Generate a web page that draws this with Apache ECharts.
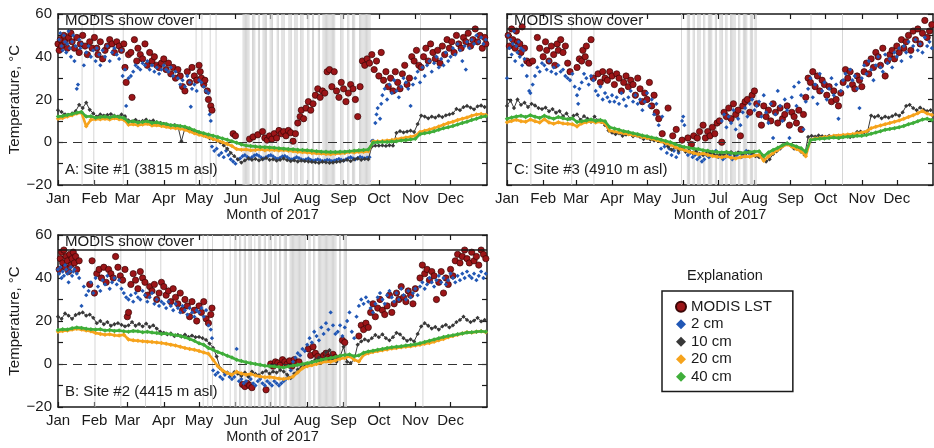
<!DOCTYPE html>
<html>
<head>
<meta charset="utf-8">
<script src="https://cdn.jsdelivr.net/npm/echarts@6/dist/echarts.min.js"></script>
<style>
html,body{margin:0;padding:0;background:#fff}
#chart{width:934px;height:448px}
</style>
</head>
<body>
<div id="chart"></div>
<script>
// Month tick labels and the day-of-year where each month starts (2017)
const monthNames = ['Jan','Feb','Mar','Apr','May','Jun','Jul','Aug','Sep','Oct','Nov','Dec'];
const monthStarts = [0,31,59,90,120,151,181,212,243,273,304,334];
const yearDays = 365;
const tempMin = -20, tempMax = 60;
const snowBandLevel = 53;   // level of the "MODIS snow cover" strip divider
const step10 = 3;           // 10 cm record: one value every 3 days
const step2040 = 4;         // 20 cm and 40 cm records: one value every 4 days

// ---------- Site #1 ----------
const siteA_lst = [[0,46],[1,43],[2,48],[3,45],[5,50],[6,47],[8,44],[9,49],[11,51],[12,47],[14,44],[16,49],[18,42],[19,46],[21,50],[23,45],[25,41],[27,47],[29,44],
[31,49],[33,44],[34,41],[36,47],[38,39],[40,43],[42,45],[44,48],[46,46],[48,42],[50,47],[52,45],[54,43],[56,46],
[57,35],[58,28],[60,41],[62,42],[63,21],[65,48],[67,38],[68,44],[70,41],[72,39],[74,46],[76,36],[78,42],[80,38],[82,40],[84,36],[86,35],[88,37],
[90,39],[92,34],[94,37],[96,32],[98,35],[100,30],[102,34],[104,31],[106,26],[108,24],[110,33],[112,28],[114,35],[116,31],[118,29],
[120,36],[121,33],[122,30],[124,27],[125,29],[127,24],[128,20],[130,17],[131,15],
[149,4],[151,3],[163,1.5],[166,2.5],[170,3.5],[174,5],[176,2],[178,1],
[180,3],[182,1.5],[184,4],[186,2],[188,5.5],[190,4],[192,5],[194,3],[196,5.5],[198,4.5],[200,0.5],[202,4],[204,9],[206,12],[207,15],[209,11],[211,16],[213,19],[215,15],[217,18],[219,22],[221,25],[223,21],[225,24],[227,23],[229,33],[231,34],[233,26],[235,33],[237,24],[239,21],[241,28],[243,25],[245,19],[247,23],[249,27],[251,25],[253,20],[255,12],[257,26],[259,38],[261,36],[263,39],[265,37],[267,41],[269,34],[271,38],[273,31],[275,42],
[277,29],[279,33],[281,26],[283,30],[285,24],[287,33],[289,28],[291,25],[293,32],[295,36],[297,27],[299,30],[301,40],[303,38],[305,43],[307,36],[309,35],[311,40],[313,44],[315,38],[317,46],[319,42],[321,39],[323,43],[325,37],[327,45],[329,41],[331,48],[333,44],[335,47],[337,42],[339,50],[341,46],[343,44],[345,49],[347,47],[349,51],[351,45],[353,48],[355,53],[357,47],[359,50],[361,44],[363,49],[364,46]];

const siteA_cm2 = [[1,48],[2,51],[3,45],[4,43],[5,50],[6,47],[7,42],[8,46],[9,52],[10,44],[11,40],[12,47],[13,50],[14,38],[15,45],[16,25],[17,27],[18,48],[19,44],[20,46],[22,36],[24,42],[26,45],[28,40],[30,43],
[32,38],[33,44],[35,41],[36,36],[38,43],[40,40],[42,45],[44,38],[46,42],[48,44],[50,41],[52,39],[54,43],[55,31],[57,34],
[58,17],[60,30],[62,31],[64,33],[66,36],[68,35],[70,34],[72,37],[74,36],[76,38],[78,34],[80,36],[82,33],[84,35],[86,32],[88,34],
[90,36],[92,34],[94,33],[96,35],[98,31],[100,33],[102,30],[104,27],[106,29],[108,26],[110,31],[112,28],[113,16.6],[114,25],[116,27],[118,24],
[120,29],[122,28],[124,26],[126,24],[128,23],[129,13],[130,10],
[131,-2],[133,-4],[135,-3],[137,-6],[139,-5],[141,-7],[143,-4],[145,-6],[147,-8],[149,-9],[151,-10],[153,-8],
[155,-7.5],[157,-6.5],[159,-6],[161,-6.8],[163,-7.6],[165,-7],[167,-6.2],[169,-5.8],[171,-6.4],[173,-7.2],[175,-7.6],[177,-7],[179,-6.4],[181,-6],[183,-6.6],[185,-7.4],[187,-7.8],[189,-7.2],[191,-6.6],[193,-6.4],[195,-7],[197,-7.8],[199,-8],[201,-7.6],[203,-7],[205,-7.4],[207,-8],[209,-8.4],[211,-8],[213,-7.6],[215,-8.2],[217,-8.6],[219,-8.4],[221,-8],[223,-8.4],[225,-8.8],[227,-8.6],[229,-8.2],[231,-8.4],[233,-8.8],[235,-8.6],[237,-8.2],[239,-7.8],[241,-8.2],[243,-8.6],[245,-8],[247,-7.4],[249,-7],[251,-7.6],[253,-8],[255,-7.4],[257,-6.8],[259,-7.2],[261,-7.6],[263,-7.2],[265,-7],
[267,0.5],[268,0.8],[270,9],[271,13],[272,16],[274,11],[275,18],
[276,22],[278,25],[280,20],[282,27],[284,23],[286,29],[288,24],[290,21],[292,26],[294,30],[296,28],[298,25],[300,17],[302,27],
[304,30],[306,33],[308,28],[310,35],[312,31],[314,36],[316,38],[318,33],[320,37],[322,40],[324,35],[326,39],[328,36],[330,42],[332,38],
[334,40],[336,44],[338,41],[340,46],[342,43],[344,38],[346,45],[347,34],[348,47],[350,44],[352,48],[354,46],[356,50],[358,47],[360,49],[362,46],[364,48]];

const siteA_cm10 = [15.0,14.2,13.0,12.8,13.5,14.5,17.5,16.0,18.5,15.2,13.5,
12.0,13.0,12.5,12.8,13.2,12.4,12.0,13.0,12.2,
10.2,9.8,10.5,9.6,10.0,10.6,9.8,10.2,9.4,9.0,
8.6,8.2,7.8,8.0,7.5,0.5,6.6,6.0,5.2,4.5,
4.0,3.5,2.8,2.0,1.5,1.0,0.0,-1.5,-3.0,-5.0,-6.5,
-8.0,-9.5,-8.5,-7.6,-8.2,-7.8,-8.5,-8.0,-7.4,-8.2,
-8.0,-8.6,-8.2,-7.6,-8.4,-8.8,-8.5,-9.0,-8.6,-8.8,
-9.0,-9.2,-9.4,-9.6,-9.2,-9.4,-9.6,-9.5,-9.2,-9.0,
-8.6,-8.2,-8.8,-8.0,-7.6,-8.2,-7.8,-8.0,-2.0,-1.6,
-1.6,-1.5,-1.7,-1.4,-1.6,4.4,5.2,4.6,5.0,5.4,4.8,
8.5,12.5,12.0,11.2,12.0,11.5,12.4,11.8,12.6,13.0,
13.5,15.6,15.0,16.4,17.0,16.2,15.4,16.8,17.2,16.5];

const siteA_cm20 = [11.0,11.4,12.0,12.6,13.5,13.8,7.5,10.5,
10.8,10.8,11.0,10.6,11.2,10.8,10.5,
8.2,8.4,8.0,8.3,8.6,7.8,8.0,7.6,
7.2,6.8,6.6,6.3,5.8,5.0,4.2,
3.5,3.0,2.3,1.5,0.8,0.0,-0.8,-1.8,
-3.2,-3.5,-3.4,-3.8,-3.6,-3.3,-3.7,-3.5,
-3.6,-3.9,-3.6,-4.0,-4.2,-4.5,-4.6,-4.8,
-5.0,-5.2,-5.3,-5.5,-5.6,-5.4,-5.2,
-5.0,-4.6,-4.8,-4.4,-4.5,-4.2,
0.3,
0.5,0.6,0.8,1.0,1.4,1.8,2.2,2.6,
3.0,4.8,5.4,6.0,6.6,7.4,8.2,9.0,
9.6,10.4,11.0,11.6,12.4,13.0,13.2,12.8];

const siteA_cm40 = [12.0,12.3,12.8,13.2,13.8,14.2,12.0,12.2,
11.5,11.8,12.0,11.6,12.2,11.8,11.4,
9.6,9.8,9.2,9.5,9.8,9.0,9.3,8.8,
8.5,8.0,7.8,7.6,7.2,6.5,5.6,
4.8,4.2,3.6,3.0,2.5,1.8,1.2,0.5,
-0.2,-1.0,-1.5,-1.8,-2.0,-2.2,-2.3,-2.4,
-2.6,-2.8,-3.0,-3.2,-3.3,-3.5,-3.6,-3.8,
-4.0,-4.2,-4.4,-4.5,-4.6,-4.6,-4.5,
-4.4,-4.2,-4.0,-3.8,-3.6,-3.4,
-0.2,
0.0,0.1,0.1,0.3,0.5,0.8,1.0,1.3,
1.6,3.8,4.2,4.6,5.2,5.8,6.5,7.0,
7.6,8.3,9.0,9.6,10.4,11.0,11.8,12.2];

const siteA_snow = [[20,21],[30,31],[55,56],[117,118],[122,123],[129,130],[134,135],[157,163],[165,168],[170,172],[174,178],[180,183],[186,188],[190,193],[196,199],[201,204],[206,209],[212,214],[216,218],[221,223],[225,236],[240,243],[246,248],[250,253],[256,266],[308,309]];

// ---------- Site #2 ----------
const siteB_lst = [[1,44],[2,49],[3,52],[4,47],[5,53],[6,45],[7,50],[8,48],[9,43],[10,51],[11,46],[12,49],[13,52],[14,47],[15,50],[16,44],[18,48],
[27,37],[29,48],[31,33],[33,42],[35,44],[37,40],[39,45],[41,38],[43,44],[45,42],[47,40],[49,50],[51,45],[53,41],[55,39],[57,44],
[59,22],[60,24],[62,37],[64,42],[66,39],[68,35],[70,43],[72,40],[74,38],[76,32],[78,36],[80,34],[82,37],[84,30],[86,33],[88,38],
[90,36],[92,32],[94,34],[96,29],[98,35],[100,31],[102,28],[104,33],[106,25],[108,30],[110,27],[112,22],[114,29],[116,25],
[118,20],[120,27],[122,24],[124,29],[126,21],[128,19],[130,23],[131,26],
[157,-9.5],[159,-10.5],[161,-9],[163,-10],[165,-11],[177,-12],
[181,0],[183,-1],[185,1],[187,0.5],[189,-0.5],[191,2],[193,1],[195,0],[197,1.5],[199,-1],[201,2],[203,0.5],[205,1],
[213,7],[215,4],[217,8],[219,5],[221,3.5],[224,2],[226,4],[228,5],[230,3],[232,2.5],[234,4.5],[236,3],[242,11],[244,10],
[256,13],[258,18],[260,16],[262,19],[264,17],
[266,24],[268,28],[270,22],[272,26],[274,30],[276,25],[278,23],[280,27],[282,32],[284,24],[286,28],
[288,33],[290,30],[292,36],[294,31],[296,29],[298,34],[300,32],[302,28],[304,35],
[308,40],[310,46],[312,42],[314,44],[316,39],[318,43],[320,41],
[322,30],[324,38],[326,43],[328,33],[330,40],[332,37],[334,44],[336,41],
[338,48],[340,51],[342,47],[344,50],[346,53],[348,49],[350,47],[352,52],[354,48],[356,50],[358,46],[360,53],[362,51],[364,49]];

const siteB_cm2 = [[0,44],[1,42],[2,45],[3,40],[4,43],[5,41],[6,46],[7,44],[8,42],[9,38],[10,43],[11,45],[12,41],[13,43],[14,44],[16,42],[18,40],
[20,27],[22,36],[24,32],[26,34],[28,38],[30,33],
[32,40],[34,36],[36,34],[38,39],[40,37],[42,41],[44,35],[46,38],[48,40],[50,37],[52,39],[54,35],[56,33],[58,31],
[60,30],[62,32],[64,29],[66,33],[68,31],[70,30],[72,34],[74,32],[76,29],[78,31],[80,33],[82,28],[84,30],[86,27],[88,29],
[90,28],[92,26],[94,29],[96,27],[98,25],[100,28],[102,26],[104,24],[106,27],[108,25],[110,23],[112,26],[114,24],[116,22],[118,25],
[120,24],[122,26],[124,22],[126,25],[128,18],[130,16],[131,12],[132,-3],[134,-5],[136,-4],[138,-6],[140,-7],[142,-5],[144,-4],[146,-6],[148,-7],
[150,-6],[152,7],[154,-8],[156,-7],[158,-9],[160,-8],[162,-6],[164,-7],[166,-9],[168,-10],[170,-8],[172,-7],[174,-9],[176,-10],[178,-8],[180,-9],
[182,-10],[184,-8],[186,-9],[188,-10],[190,-9],[192,-8],[194,-7],[196,-6],
[198,-3],[200,1],[202,3],[204,5],[206,4],[208,7],[210,6],
[212,9],[214,12],[216,10],[218,15],[220,13],[222,11],[224,17],[226,14],[228,19],[230,16],[232,24],[234,18],[236,14],
[238,15],[240,18],[242,13],[244,17],[246,20],[248,24],[250,15],[252,12],
[254,22],[256,27],[258,30],[260,28],[262,31],[264,29],[266,26],[268,24],[270,28],
[272,31],[274,33],[276,30],[278,28],[280,32],[282,34],[284,31],[286,29],[288,33],[290,30],[292,35],[294,32],[296,30],[298,34],[300,31],[302,33],[304,35],[306,32],
[308,36],[310,38],[312,35],[314,37],[316,40],[318,38],[320,36],[322,39],[324,41],[326,38],[328,40],[330,37],[332,39],[334,42],[336,40],[338,38],[340,41],[342,39],[344,42],[346,40],[348,43],[350,41],[352,40],[354,42],[356,39],[358,41],[360,43],[362,40],[364,42]];

const siteB_cm10 = [22.0,21.0,23.5,22.5,21.0,22.8,23.5,24.0,22.5,23.0,21.5,
19.0,20.0,18.5,19.5,17.8,18.5,19.0,18.2,17.5,
18.0,19.5,17.8,18.6,17.5,18.8,17.2,18.0,16.5,15.0,
14.5,13.8,14.2,13.0,13.5,12.8,13.6,12.6,13.2,12.5,
12.6,12.0,11.2,9.5,7.5,3.5,-2.0,-3.5,-4.0,-5.0,-3.8,
-4.5,-5.5,-4.0,-5.8,-3.5,-4.6,-5.2,-4.0,-3.2,-4.5,
-3.5,-4.0,-2.8,-3.5,-5.0,-6.5,-4.5,-2.5,-1.5,-1.0,
0.0,1.0,2.0,3.0,1.5,5.5,6.5,2.0,1.0,3.5,
8.0,1.0,0.5,2.0,9.0,10.5,11.5,10.8,12.0,13.5,
12.5,13.8,12.0,11.0,12.5,14.5,13.8,12.0,10.8,11.5,10.5,
14.0,17.5,19.0,17.8,16.5,17.2,16.0,17.5,18.2,17.0,
18.0,19.5,20.5,22.0,20.5,19.5,20.2,21.5,19.8,20.5];

const siteB_cm20 = [15.0,15.4,15.6,16.0,16.4,16.0,15.6,15.2,
14.4,14.0,13.6,13.8,13.4,13.2,13.6,
11.4,11.0,10.8,10.6,10.4,10.2,10.0,9.8,
9.4,9.0,8.6,8.0,7.4,7.0,6.6,
6.0,5.4,4.8,2.0,-1.0,-3.0,-4.2,-5.0,
-3.6,-4.4,-5.0,-4.6,-5.4,-5.8,-6.2,-6.0,
-6.4,-6.8,-7.0,-6.6,-5.8,-4.0,-2.0,-1.0,
-0.6,0.0,0.6,1.2,1.0,1.6,2.4,
2.8,3.6,2.0,1.2,4.2,5.0,
5.6,
6.0,6.4,6.8,7.2,7.4,7.8,8.0,8.2,
8.6,9.0,9.4,9.8,10.4,11.0,11.6,12.4,
13.0,13.6,14.2,14.8,14.6,15.0,15.2,14.8];

const siteB_cm40 = [15.8,16.2,16.0,16.6,17.0,16.8,16.4,16.2,
16.0,16.2,15.6,15.8,15.4,15.6,15.2,
15.0,15.4,15.2,14.8,15.0,14.6,14.4,14.0,
14.2,13.8,13.4,13.0,12.4,11.6,10.8,
9.6,9.0,7.4,6.6,5.6,4.8,3.8,3.0,
2.0,1.4,0.8,0.4,0.0,-0.4,-0.8,-1.0,
-1.2,-1.4,-1.6,-1.2,-0.8,-0.4,0.0,0.4,
0.8,1.4,2.0,2.4,2.8,3.2,3.8,
4.2,4.4,3.6,4.0,5.2,5.8,
6.2,
6.6,7.0,7.4,7.8,8.0,8.2,8.6,8.8,
9.2,9.6,10.2,10.8,11.4,12.0,12.6,13.0,
13.4,13.8,14.2,14.6,14.8,15.0,15.2,15.0];

const siteB_snow = [[31,32],[53,54],[74,75],[87,88],[123,124],[127,128],[131,132],[140,141],[146,147],[150,152],[154,156],[158,160],[162,165],[167,168],[170,173],[175,177],[179,182],[184,186],[188,190],[192,195],[197,211],[213,215],[217,219],[221,237],[239,241],[243,246],[310,311]];

// ---------- Site #3 ----------
const siteC_lst = [[1,50],[2,45],[4,53],[5,48],[7,44],[8,52],[9,47],[11,46],[12,42],[13,54],[15,44],[17,38],[19,37],[22,38],[26,49],[28,44],
[31,40],[33,47],[34,43],[36,38],[38,45],[40,41],[41,36],[43,46],[44,43],[46,48],[48,42],[50,45],[52,37],[54,33],
[60,35],[62,39],[64,38],[65,43],[67,40],[68,45],[70,37],[72,48],[74,30],
[78,32],[80,28],[82,33],[84,30],[86,29],[88,33],[90,31],[92,27],[94,32],[96,30],[98,24],[100,28],[102,31],[104,26],[106,29],
[108,27],[110,22],[112,30],[114,25],[116,19],[118,23],[120,20],[122,28],[124,17],[126,22],[128,14],[130,11],[133,4],[138,16],[142,3],[145,6],[150,1],
[155,2],[158,-1],[160,3],[163,2],[165,5],[168,8],[170,2],[172,5],[174,3],[176,7],[178,4],[180,9],
[182,10],[184,0],[186,14],[188,12],[190,16],[192,11],[194,18],[196,13],[198,15],[200,3],[202,17],[204,19],[206,20],[208,14],[210,22],[212,24],[214,18],
[216,13],[218,8],[220,17],[222,12],[224,15],[226,10],[228,18],[230,14],[232,9],[234,16],[236,11],[238,13],[240,17],[242,8],[244,14],[246,12],[248,9],
[250,15],[252,6],[254,13],[256,21],[258,30],[260,28],[262,33],[264,26],[266,31],[268,24],[270,29],[272,27],
[274,22],[276,26],[278,19],[280,24],[282,20],[284,17],[286,23],[288,28],[290,34],[292,30],[294,33],[296,27],[298,25],[300,31],[302,29],
[304,26],[306,33],[308,37],[310,32],[312,39],[314,35],[316,42],[318,40],[320,36],[322,44],[324,31],[326,38],[328,41],[330,43],[332,39],
[334,45],[336,42],[338,48],[340,44],[342,47],[344,50],[346,43],[348,52],[350,48],[352,53],[354,46],[356,51],[358,57],[360,49],[362,52],[364,55]];

const siteC_cm2 = [[0,30],[1,50],[2,44],[3,48],[4,41],[5,46],[6,52],[7,38],[8,45],[9,42],[10,47],[11,40],[12,44],[13,36],[14,43],[15,39],[17,31],[19,24],[20,23],[22,27],[24,31],[26,35],[28,33],[30,37],
[32,36],[34,34],[36,38],[38,33],[40,35],[42,32],[44,36],[46,33],[48,34],[50,31],[52,30],[54,29],[56,32],[58,26],
[60,22],[61,18],[62,25],[64,28],[66,32],[68,30],[70,27],[72,31],[74,29],[76,24],[78,22],[80,26],[82,20],[84,23],[86,21],[88,19],
[90,22],[92,19],[94,21],[96,18],[98,23],[100,20],[102,17],[104,21],[106,24],[108,19],[110,22],[112,18],[114,20],[116,15],[118,19],
[120,23],[122,17],[124,20],[126,13],[128,18],[130,8],[132,-3],[133,12],[135,-2],[137,-5],[139,-3],[141,-6],[143,-4],[145,-7],
[147,-5],[149,-3],[150,10],[151,12],[152,8],[153,-4],[155,-6],[157,-5],[159,-7],[161,-6],[163,-8],[165,-7],[167,-9],[169,-8],[171,-6],[173,-7],[175,-5],[177,-6],[179,-4],
[181,-7],[183,-6],[185,-8],[187,-7],[189,-5],[191,-6],[193,-8],[195,-7],[197,-6],[199,-5],[201,-7],[203,-6],[205,-4],[207,-5],[209,-6],[211,-5],
[184,10],[186,13],[188,7],[190,12],[192,9],[194,15],[196,6],[198,11],[200,8],[202,14],[204,16],[206,12],[208,18],[210,20],[212,15],[214,17],
[216,19],[218,12],[220,22],[222,14],[224,9],[226,18],[228,2],[230,13],[232,24],[234,17],[236,10],[238,20],[240,15],[242,2],
[244,21],[246,26],[248,17],[250,28],[252,22],[254,6],[256,19],[258,25],[260,30],[262,21],[264,27],[266,18],[268,32],[270,24],
[272,28],[274,20],[276,25],[278,30],[280,22],[282,27],[284,11],[286,24],[288,29],[290,32],[292,26],[294,34],[296,29],[298,31],[300,25],[302,16],
[304,30],[306,36],[308,32],[310,38],[312,34],[314,29],[316,36],[318,40],[320,35],[322,33],[324,41],[326,37],[328,39],[330,35],[332,42],
[334,40],[336,44],[338,38],[340,45],[342,42],[344,47],[346,40],[348,45],[350,48],[352,43],[354,46],[356,42],[358,49],[360,45],[362,47],[364,44]];

const siteC_cm10 = [17.0,19.5,16.0,20.0,17.5,18.5,16.5,18.0,17.2,16.0,15.5,
16.2,14.5,15.5,13.8,14.6,12.2,13.5,11.0,12.4,
13.0,10.5,12.2,11.0,9.6,12.0,10.2,9.5,8.0,5.5,
4.5,3.8,4.2,3.0,3.6,4.0,2.8,3.2,2.5,1.5,
2.0,1.2,0.8,1.5,0.5,-0.5,-2.0,-3.5,-2.5,-4.0,-3.0,
-4.5,-3.8,-5.0,-4.2,-5.5,-6.0,-5.2,-4.8,-5.6,-6.2,
-5.5,-6.0,-5.0,-4.6,-5.8,-4.8,-5.2,-6.5,-4.4,-5.0,
-6.5,-7.0,-6.2,-9.0,-8.0,-5.5,-4.2,-3.0,-1.5,-0.5,
-1.5,-3.0,-2.5,-4.5,-6.0,2.5,3.0,2.6,3.2,2.8,
2.5,3.0,2.4,2.8,2.2,2.6,3.0,2.4,2.8,4.8,5.0,
4.6,5.2,12.5,11.8,12.4,11.2,12.0,11.5,12.2,13.0,
12.4,14.0,17.0,17.5,16.0,15.0,16.2,15.2,14.6,15.0];

const siteC_cm20 = [9.4,10.0,10.5,9.8,9.6,10.6,9.8,9.2,
10.8,9.2,8.6,9.4,8.8,8.6,8.4,
7.4,8.8,9.4,9.8,9.2,9.6,8.8,5.4,
5.0,4.6,4.2,3.8,3.4,3.0,2.4,
2.0,1.6,1.0,0.4,-0.4,-1.2,-2.2,-3.0,
-3.6,-4.4,-5.0,-5.6,-5.2,-6.0,-6.4,-6.8,
-7.0,-6.6,-7.2,-7.6,-7.0,-6.6,-6.8,-6.2,
-6.0,-8.6,-6.6,-5.0,-3.6,-2.0,-1.0,
-2.0,-3.2,-4.2,-6.5,1.2,1.8,
2.0,
2.4,2.6,3.0,3.2,3.4,3.6,3.8,4.2,
4.6,5.0,6.6,7.2,7.8,8.4,9.0,9.6,
10.2,11.0,11.8,12.6,13.6,14.6,13.4,12.8];

const siteC_cm40 = [11.0,11.6,12.0,12.4,11.8,12.6,11.9,11.4,
12.4,11.6,11.0,11.8,11.2,10.8,11.2,
9.5,9.8,10.2,10.6,10.0,10.4,9.8,7.0,
6.4,5.8,5.2,4.8,4.2,3.8,3.2,
2.8,2.2,1.8,1.2,0.6,0.0,-0.8,-1.6,
-2.2,-2.6,-3.0,-3.2,-3.8,-4.0,-4.4,-4.6,
-4.8,-4.6,-5.0,-5.2,-5.0,-4.8,-4.6,-4.4,
-4.2,-6.5,-4.8,-3.6,-2.6,-1.4,-0.6,
-1.2,-2.0,-2.8,-4.5,1.0,1.4,
1.6,
1.8,2.0,2.2,2.0,2.4,2.6,2.8,3.0,
3.0,3.4,4.0,4.6,5.2,5.8,6.2,6.6,
7.0,7.6,8.4,9.0,9.8,10.6,11.0,10.4];

const siteC_snow = [[20,21],[55,56],[74,75],[149,150],[154,157],[159,161],[163,166],[168,170],[172,176],[178,180],[182,185],[187,189],[191,196],[198,200],[202,206],[208,211],[212,214],[260,261],[287,288]];

// ---------- drawing ----------
const FONT = '"Liberation Sans", Arial, Helvetica, sans-serif';
const INK = '#1a1a1a';
const COLORS = { lst: '#9c1518', lstEdge: '#3a0606', cm2: '#2157b5', cm10: '#383838', cm20: '#f6a31c', cm40: '#3fae3a', snow: '#d0d0d0' };

const panels = [
  { grid: {left: 58, top: 14, width: 429, height: 171}, label: 'A: Site #1 (3815 m asl)', yLabels: true,
    lst: siteA_lst, cm2: siteA_cm2, cm10: siteA_cm10, cm20: siteA_cm20, cm40: siteA_cm40, snow: siteA_snow },
  { grid: {left: 58, top: 235, width: 429, height: 172}, label: 'B: Site #2 (4415 m asl)', yLabels: true,
    lst: siteB_lst, cm2: siteB_cm2, cm10: siteB_cm10, cm20: siteB_cm20, cm40: siteB_cm40, snow: siteB_snow },
  { grid: {left: 507, top: 14, width: 426, height: 171}, label: 'C: Site #3 (4910 m asl)', yLabels: false,
    lst: siteC_lst, cm2: siteC_cm2, cm10: siteC_cm10, cm20: siteC_cm20, cm40: siteC_cm40, snow: siteC_snow }
];

const toDaily = (values, step) => values.map((v, i) => [i * step, v]);
const fmtTemp = v => (v < 0 ? '\u2212' + Math.abs(v) : String(v));
// each snow-covered day becomes its own thin stripe, so runs of days read as striped blocks
const snowStripes = ranges => {
  const out = [];
  ranges.forEach(([a, b]) => { for (let d = a; d < b; d++) out.push([{ xAxis: d + 0.1 }, { xAxis: d + 0.85 }]); });
  return out;
};

const grids = [], xAxes = [], yAxes = [], series = [], titles = [];

panels.forEach((p, g) => {
  grids.push(Object.assign({ containLabel: false }, p.grid));
  const tickStyle = { show: true, inside: true, length: 5, lineStyle: { color: INK, width: 1.2 } };
  const lineStyle = { show: true, onZero: false, lineStyle: { color: INK, width: 1.5 } };
  xAxes.push({
    type: 'value', gridIndex: g, position: 'bottom', min: 0, max: yearDays,
    axisLine: lineStyle, splitLine: { show: false },
    axisTick: Object.assign({ customValues: monthStarts }, tickStyle),
    axisLabel: { customValues: monthStarts, color: INK, fontSize: 15, fontFamily: FONT, margin: 6,
                 formatter: v => monthNames[monthStarts.indexOf(v)] },
    name: 'Month of 2017', nameLocation: 'middle', nameGap: 22,
    nameTextStyle: { color: INK, fontSize: 14.5, fontFamily: FONT }
  });
  xAxes.push({
    type: 'value', gridIndex: g, position: 'top', min: 0, max: yearDays,
    axisLine: lineStyle, splitLine: { show: false },
    axisTick: Object.assign({ customValues: monthStarts }, tickStyle),
    axisLabel: { show: false }
  });
  yAxes.push({
    type: 'value', gridIndex: g, position: 'left', min: tempMin, max: tempMax, interval: 20,
    axisLine: lineStyle, splitLine: { show: false }, axisTick: tickStyle,
    minorTick: { show: true, splitNumber: 2, length: 5, lineStyle: { color: INK, width: 1.2 } },
    axisLabel: { show: p.yLabels, color: INK, fontSize: 15, fontFamily: FONT, margin: 6, formatter: fmtTemp },
    name: p.yLabels ? 'Temperature, \u00B0C' : '', nameLocation: 'middle', nameGap: 34,
    nameTextStyle: { color: INK, fontSize: 15, fontFamily: FONT }
  });
  yAxes.push({
    type: 'value', gridIndex: g, position: 'right', min: tempMin, max: tempMax, interval: 20,
    axisLine: lineStyle, splitLine: { show: false }, axisTick: tickStyle,
    minorTick: { show: true, splitNumber: 2, length: 5, lineStyle: { color: INK, width: 1.2 } },
    axisLabel: { show: false }
  });
  const xi = 2 * g, yi = 2 * g;

  // snow-covered days and the zero reference
  series.push({
    type: 'line', xAxisIndex: xi, yAxisIndex: yi, data: [], silent: true, z: 1,
    markArea: { silent: true, itemStyle: { color: COLORS.snow }, data: snowStripes(p.snow) },
    markLine: { silent: true, symbol: 'none', animation: false,
                data: [{ yAxis: 0, lineStyle: { type: [9, 6], color: '#333', width: 1 }, label: { show: false } }] }
  });
  // strip divider with its caption
  series.push({
    type: 'line', xAxisIndex: xi, yAxisIndex: yi, data: [], silent: true, z: 8,
    markLine: { silent: true, symbol: 'none', animation: false,
      data: [{ yAxis: snowBandLevel, lineStyle: { type: 'solid', color: INK, width: 1.5 },
               label: { show: true, position: 'insideStartTop', formatter: 'MODIS snow cover', distance: [7, 1],
                        color: INK, fontSize: 15, fontFamily: FONT } }] }
  });
  series.push({
    name: 'MODIS LST', type: 'scatter', xAxisIndex: xi, yAxisIndex: yi, z: 2,
    symbol: 'circle', symbolSize: 6.3, data: p.lst,
    itemStyle: { color: COLORS.lst, borderColor: COLORS.lstEdge, borderWidth: 0.7, opacity: 1 }
  });
  series.push({
    name: '2 cm', type: 'scatter', xAxisIndex: xi, yAxisIndex: yi, z: 3,
    symbol: 'diamond', symbolSize: 4.3, data: p.cm2, itemStyle: { color: COLORS.cm2, opacity: 1 }
  });
  series.push({
    name: '10 cm', type: 'line', xAxisIndex: xi, yAxisIndex: yi, z: 4,
    symbol: 'diamond', symbolSize: 4.3, showSymbol: true, data: toDaily(p.cm10, step10),
    lineStyle: { color: COLORS.cm10, width: 1 }, itemStyle: { color: COLORS.cm10 }
  });
  series.push({
    name: '20 cm', type: 'line', xAxisIndex: xi, yAxisIndex: yi, z: 5,
    symbol: 'diamond', symbolSize: 4.5, showSymbol: true, data: toDaily(p.cm20, step2040),
    lineStyle: { color: COLORS.cm20, width: 2.6 }, itemStyle: { color: COLORS.cm20 }
  });
  series.push({
    name: '40 cm', type: 'line', xAxisIndex: xi, yAxisIndex: yi, z: 6,
    symbol: 'diamond', symbolSize: 4.5, showSymbol: true, data: toDaily(p.cm40, step2040),
    lineStyle: { color: COLORS.cm40, width: 2.6 }, itemStyle: { color: COLORS.cm40 }
  });

  titles.push({ text: p.label, left: p.grid.left + 7, top: p.grid.top + p.grid.height - 23, padding: 0,
                textStyle: { color: INK, fontSize: 15, fontWeight: 'normal', fontFamily: FONT } });
});

titles.push({ text: 'Explanation', left: 687, top: 268, padding: 0,
              textStyle: { color: INK, fontSize: 14.5, fontWeight: 'normal', fontFamily: FONT } });

const chart = echarts.init(document.getElementById('chart'), null, { renderer: 'canvas' });
chart.setOption({
  animation: false,
  backgroundColor: '#fff',
  title: titles,
  grid: grids,
  xAxis: xAxes,
  yAxis: yAxes,
  legend: {
    left: 662, top: 291, orient: 'vertical', selectedMode: false,
    padding: [7, 21, 6, 13], itemGap: 0, itemWidth: 10, itemHeight: 10,
    borderColor: INK, borderWidth: 1.5,
    textStyle: { color: INK, fontSize: 15, fontFamily: FONT, lineHeight: 17.5 },
    data: [
      { name: 'MODIS LST', icon: 'circle' },
      { name: '2 cm', icon: 'diamond' },
      { name: '10 cm', icon: 'diamond' },
      { name: '20 cm', icon: 'diamond' },
      { name: '40 cm', icon: 'diamond' }
    ]
  },
  series: series
});
</script>
</body>
</html>
